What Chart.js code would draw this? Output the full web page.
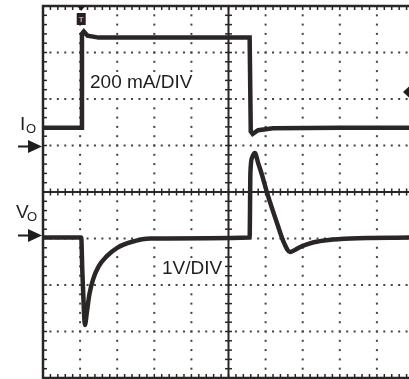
<!DOCTYPE html>
<html><head><meta charset="utf-8">
<script src="https://cdn.jsdelivr.net/npm/chart.js@4"></script>
<style>html,body{margin:0;padding:0;background:#fff;overflow:hidden}#wrap{width:409px;height:379px;position:relative}</style>
</head><body><div id="wrap"><canvas id="c" width="409" height="379"></canvas></div>
<script>
// time axis in screen divisions, amplitudes in screen divisions from the bottom edge
const ioTime = [0, 1.03, 1.05, 1.1, 1.2, 1.5, 3.0, 5.57, 5.6, 5.65, 5.8, 6.2, 8.0, 9.9];
const ioDiv  = [5.38, 5.38, 7.4, 7.45, 7.36, 7.32, 7.32, 7.32, 5.3, 5.25, 5.33, 5.37, 5.38, 5.38];
const voTime = [0, 1.03, 1.06, 1.1, 1.13, 1.18, 1.25, 1.35, 1.5, 1.72, 2.0, 2.4, 2.9, 5.57, 5.59, 5.64, 5.71, 5.8, 5.92, 6.04, 6.3, 6.5, 6.66, 6.8, 7.0, 7.3, 7.7, 8.3, 9.9];
const voDiv  = [3.02, 3.02, 2.3, 1.5, 1.14, 1.4, 1.8, 2.12, 2.4, 2.62, 2.8, 2.93, 3.0, 3.02, 4.4, 4.75, 4.84, 4.62, 4.32, 3.98, 3.35, 2.9, 2.71, 2.76, 2.84, 2.92, 2.97, 3.0, 3.02];
const xDivs = [1,2,3,4,5,6,7,8,9];
const yDivs = [1,2,3,4,5,6,7];
const labels = {current: "200 mA/DIV", voltage: "1V/DIV", io: "I", vo: "V", sub: "O", trig: "T"};

const ink = '#2b2626';
const graticule = {
  id: 'graticule',
  beforeDatasetsDraw(chart) {
    const {ctx, chartArea: a, scales: {x, y}} = chart;
    ctx.save();
    ctx.fillStyle = '#444';
    const xMax = x.max, yMax = y.max;
    // dotted grid
    yDivs.forEach(j => {
      if (j === 4) return;
      const py = y.getPixelForValue(j);
      for (let t = 0.2; t < xMax; t += 0.2) ctx.fillRect(x.getPixelForValue(t) - 1, py - 1, 2, 2);
    });
    xDivs.forEach(i => {
      if (i === 5) return;
      const px = x.getPixelForValue(i);
      for (let v = 0.2; v < yMax; v += 0.2) ctx.fillRect(px - 1, y.getPixelForValue(v) - 1, 2, 2);
    });
    // center axes
    ctx.strokeStyle = ink; ctx.lineWidth = 2;
    const cx = x.getPixelForValue(5), cy = y.getPixelForValue(4);
    ctx.beginPath(); ctx.moveTo(cx, a.top); ctx.lineTo(cx, a.bottom); ctx.stroke();
    ctx.beginPath(); ctx.moveTo(a.left, cy); ctx.lineTo(a.right, cy); ctx.stroke();
    ctx.lineWidth = 1.5;
    for (let v = 0.2; v < yMax; v += 0.2) {
      const py = y.getPixelForValue(v);
      ctx.beginPath(); ctx.moveTo(cx - 3.5, py); ctx.lineTo(cx + 3.5, py); ctx.stroke();
      ctx.beginPath(); ctx.moveTo(a.left, py); ctx.lineTo(a.left + 4, py); ctx.stroke();
    }
    for (let t = 0.2; t < xMax; t += 0.2) {
      const px = x.getPixelForValue(t);
      ctx.beginPath(); ctx.moveTo(px, cy - 3.5); ctx.lineTo(px, cy + 3.5); ctx.stroke();
      ctx.beginPath(); ctx.moveTo(px, a.top); ctx.lineTo(px, a.top + 4); ctx.stroke();
      ctx.beginPath(); ctx.moveTo(px, a.bottom); ctx.lineTo(px, a.bottom - 4); ctx.stroke();
    }
    // frame
    ctx.lineWidth = 2.5;
    ctx.beginPath(); ctx.moveTo(a.right + 2, a.top); ctx.lineTo(a.left, a.top); ctx.lineTo(a.left, a.bottom); ctx.lineTo(a.right + 2, a.bottom); ctx.stroke();
    // white boxes behind the scale labels
    ctx.fillStyle = '#fff';
    ctx.fillRect(88, 72, 110, 20);
    ctx.fillRect(160, 258, 64, 20);
    ctx.restore();
  },
  afterDatasetsDraw(chart) {
    const {ctx, chartArea: a, scales: {x, y}} = chart;
    ctx.save();
    ctx.fillStyle = '#1e1e1e';
    ctx.textBaseline = 'alphabetic';
    ctx.font = '19px "Liberation Sans", Arial, sans-serif';
    ctx.fillText(labels.current, 90, 88);
    ctx.fillText(labels.voltage, 162, 274);
    ctx.fillText(labels.io, 20, 130);
    ctx.fillText(labels.vo, 16, 218);
    ctx.font = '13px "Liberation Sans", Arial, sans-serif';
    ctx.fillText(labels.sub, 26, 133);
    ctx.fillText(labels.sub, 27, 221);
    // arrows
    const arrow = (py) => {
      ctx.fillRect(18, py - 1, 12, 2);
      ctx.beginPath(); ctx.moveTo(28, py - 6.5); ctx.lineTo(42, py); ctx.lineTo(28, py + 6.5); ctx.closePath(); ctx.fill();
    };
    arrow(146.5);
    arrow(235.5);
    // trigger marker
    const tx = x.getPixelForValue(1.03);
    ctx.beginPath(); ctx.moveTo(tx - 4, a.top); ctx.lineTo(tx + 4, a.top); ctx.lineTo(tx, a.top + 5); ctx.closePath(); ctx.fill();
    ctx.fillStyle = '#2a1f1f';
    ctx.fillRect(tx - 4.5, 13, 9, 12);
    ctx.fillStyle = '#b9b0b0';
    ctx.font = 'bold 8px "Liberation Sans", Arial, sans-serif';
    ctx.textAlign = 'center';
    ctx.fillText(labels.trig, tx, 22);
    // right level marker
    ctx.fillStyle = '#1e1e1e';
    ctx.beginPath(); ctx.moveTo(409, 86.5); ctx.lineTo(403, 92); ctx.lineTo(409, 97.5); ctx.closePath(); ctx.fill();
    ctx.restore();
  }
};

const toPts = (ts, vs) => ts.map((t, i) => ({x: t, y: vs[i]}));
new Chart(document.getElementById('c'), {
  type: 'line',
  data: {
    datasets: [
      {data: toPts(ioTime, ioDiv), borderColor: ink, borderWidth: 4.5, pointRadius: 0, tension: 0, fill: false},
      {data: toPts(voTime, voDiv), borderColor: ink, borderWidth: 4.5, pointRadius: 0, cubicInterpolationMode: 'monotone', fill: false}
    ]
  },
  options: {
    responsive: false, animation: false, events: [],
    layout: {padding: {left: 43, top: 6, right: 0, bottom: 1}},
    plugins: {legend: {display: false}, tooltip: {enabled: false}},
    scales: {
      x: {type: 'linear', display: false, min: 0, max: (409 - 43) / 37.1},
      y: {type: 'linear', display: false, min: 0, max: 8}
    }
  },
  plugins: [graticule]
});
</script></body></html>
